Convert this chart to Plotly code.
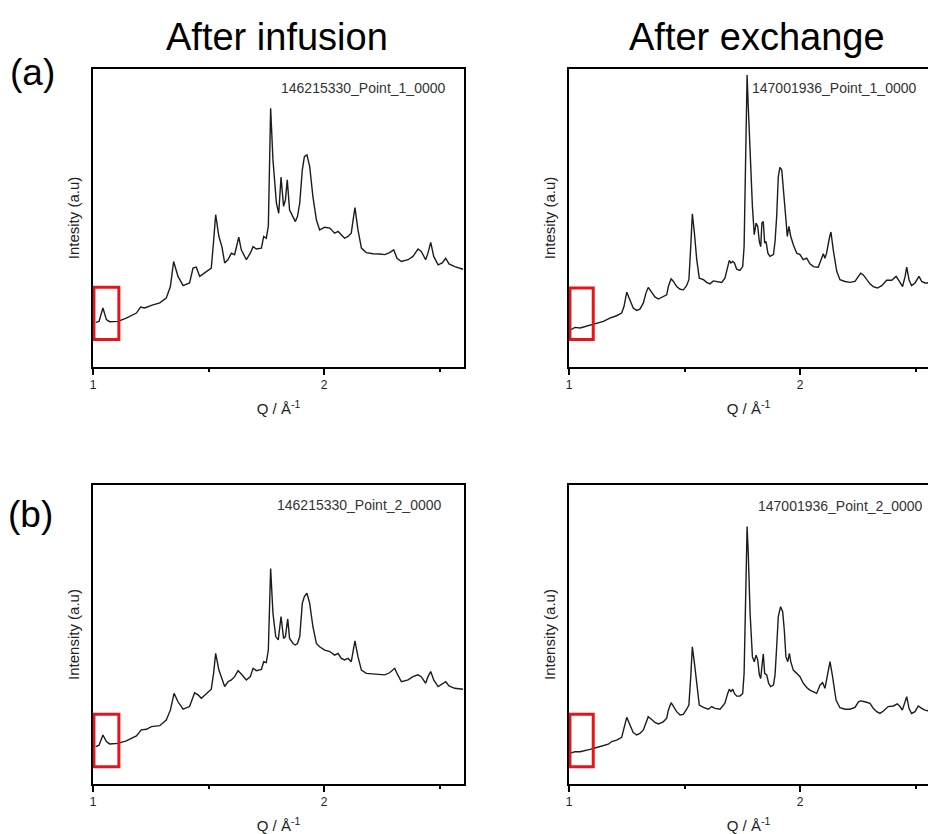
import plotly.graph_objects as go

# ---------------- data (Q in 1/Å, intensity in arbitrary units) ----------------
q_a1 = [1.012, 1.026, 1.043, 1.058, 1.072, 1.108, 1.144, 1.188, 1.206, 1.224, 1.253, 1.289, 1.317, 1.335,
        1.349, 1.368, 1.390, 1.418, 1.433, 1.447, 1.462, 1.491, 1.512, 1.522, 1.531, 1.545, 1.558, 1.570,
        1.584, 1.599, 1.613, 1.631, 1.642, 1.664, 1.681, 1.693, 1.707, 1.729, 1.739, 1.750, 1.759, 1.769,
        1.779, 1.794, 1.804, 1.814, 1.825, 1.833, 1.841, 1.851, 1.866, 1.876, 1.885, 1.895, 1.906, 1.915,
        1.926, 1.938, 1.952, 1.967, 1.981, 2.003, 2.025, 2.046, 2.061, 2.075, 2.089, 2.104, 2.118, 2.126,
        2.134, 2.147, 2.162, 2.183, 2.212, 2.241, 2.263, 2.284, 2.302, 2.316, 2.335, 2.364, 2.385, 2.407,
        2.421, 2.440, 2.450, 2.462, 2.475, 2.494, 2.512, 2.527, 2.541, 2.566, 2.602]
i_a1 = [15.0, 15.3, 19.8, 15.9, 15.2, 15.3, 16.4, 18.1, 20.1, 19.8, 20.7, 21.5, 23.1, 27.0,
        35.4, 30.4, 27.3, 28.2, 33.2, 33.5, 30.4, 32.1, 33.2, 42.1, 51.1, 43.8, 40.4, 34.9,
        36.0, 38.2, 37.7, 43.6, 39.3, 36.0, 38.2, 40.4, 39.6, 39.9, 43.8, 43.2, 47.2, 86.8,
        69.5, 55.0, 51.6, 63.7, 53.9, 56.1, 62.8, 52.7, 50.5, 48.8, 50.5, 55.0, 66.1, 70.6,
        71.2, 67.3, 57.2, 49.4, 46.0, 46.9, 46.6, 44.9, 45.5, 44.4, 43.2, 43.8, 44.9, 49.4,
        53.5, 46.0, 39.9, 38.4, 38.0, 37.9, 37.7, 38.4, 39.3, 36.5, 35.4, 36.0, 37.1, 39.6,
        38.8, 36.0, 38.2, 41.8, 37.1, 34.3, 34.9, 36.5, 34.6, 33.7, 32.8]

q_a2 = [1.007, 1.026, 1.048, 1.069, 1.091, 1.120, 1.149, 1.177, 1.206, 1.228, 1.238, 1.250, 1.264, 1.278,
        1.293, 1.307, 1.322, 1.333, 1.343, 1.358, 1.372, 1.387, 1.408, 1.423, 1.430, 1.442, 1.452, 1.466,
        1.481, 1.495, 1.509, 1.519, 1.527, 1.534, 1.543, 1.553, 1.564, 1.582, 1.596, 1.610, 1.625, 1.639,
        1.661, 1.675, 1.687, 1.694, 1.701, 1.709, 1.716, 1.726, 1.740, 1.752, 1.758, 1.765, 1.771, 1.776,
        1.784, 1.794, 1.802, 1.810, 1.817, 1.824, 1.830, 1.835, 1.841, 1.847, 1.853, 1.861, 1.870, 1.885,
        1.892, 1.899, 1.906, 1.913, 1.921, 1.928, 1.938, 1.945, 1.952, 1.960, 1.971, 1.986, 2.000, 2.014,
        2.029, 2.043, 2.058, 2.079, 2.094, 2.101, 2.108, 2.115, 2.127, 2.134, 2.144, 2.159, 2.173, 2.195,
        2.216, 2.238, 2.253, 2.263, 2.274, 2.289, 2.303, 2.317, 2.335, 2.354, 2.375, 2.397, 2.416, 2.433,
        2.444, 2.455, 2.462, 2.472, 2.483, 2.498, 2.515, 2.527, 2.541, 2.554, 2.580, 2.606]
i_a2 = [12.5, 13.3, 13.1, 13.6, 14.0, 14.7, 15.3, 16.4, 17.2, 18.1, 20.3, 25.1, 22.6, 19.8,
        19.0, 19.4, 21.5, 24.8, 26.7, 24.8, 23.5, 22.8, 23.5, 24.2, 27.0, 29.6, 28.7, 27.0,
        26.1, 25.9, 27.3, 29.3, 40.4, 51.4, 44.9, 36.0, 29.8, 29.3, 28.4, 27.9, 28.9, 28.7,
        28.4, 29.8, 33.7, 35.8, 34.9, 35.4, 34.9, 32.8, 32.4, 33.7, 40.4, 69.5, 98.0, 87.4,
        71.7, 53.9, 44.4, 48.3, 47.2, 42.1, 40.4, 48.3, 48.8, 41.6, 42.1, 38.2, 37.1, 37.7,
        42.1, 50.5, 63.9, 67.0, 66.1, 58.3, 50.5, 43.8, 47.2, 43.8, 41.0, 38.2, 37.7, 36.0,
        36.5, 34.6, 33.7, 33.5, 37.1, 38.0, 36.5, 38.2, 43.2, 45.3, 39.3, 32.1, 29.3, 28.7,
        28.4, 28.7, 30.4, 31.5, 30.9, 29.3, 27.9, 27.0, 26.5, 27.3, 29.1, 29.1, 30.4, 28.4,
        27.0, 30.4, 33.5, 29.3, 27.3, 28.2, 30.4, 28.7, 28.2, 28.2, 28.0, 27.6]

q_b1 = [1.012, 1.026, 1.043, 1.058, 1.072, 1.108, 1.144, 1.188, 1.209, 1.231, 1.253, 1.289, 1.317, 1.335,
        1.351, 1.368, 1.390, 1.418, 1.440, 1.455, 1.469, 1.491, 1.512, 1.522, 1.531, 1.545, 1.558, 1.570,
        1.584, 1.599, 1.613, 1.628, 1.642, 1.664, 1.681, 1.693, 1.707, 1.729, 1.739, 1.750, 1.759, 1.769,
        1.779, 1.791, 1.802, 1.814, 1.825, 1.833, 1.843, 1.851, 1.866, 1.876, 1.885, 1.895, 1.906, 1.915,
        1.926, 1.938, 1.952, 1.967, 1.981, 2.003, 2.025, 2.046, 2.061, 2.075, 2.089, 2.104, 2.118, 2.126,
        2.134, 2.147, 2.162, 2.183, 2.212, 2.241, 2.263, 2.284, 2.306, 2.316, 2.335, 2.364, 2.385, 2.407,
        2.421, 2.440, 2.450, 2.462, 2.475, 2.494, 2.512, 2.527, 2.541, 2.566, 2.602]
i_b1 = [12.5, 13.0, 16.4, 14.2, 13.4, 13.6, 14.4, 16.1, 18.1, 18.3, 19.2, 19.5, 21.4, 24.7,
        30.3, 27.5, 25.0, 25.9, 30.5, 29.8, 28.7, 30.3, 31.7, 37.0, 43.7, 38.1, 34.8, 32.6,
        34.2, 34.8, 35.9, 37.9, 36.8, 34.8, 35.9, 38.7, 37.9, 38.3, 40.9, 40.6, 44.8, 72.1,
        57.1, 49.3, 48.2, 56.0, 48.7, 49.3, 55.2, 48.7, 47.0, 46.5, 47.0, 49.3, 60.4, 62.7,
        63.8, 60.4, 52.6, 47.0, 45.9, 44.8, 44.3, 43.1, 43.7, 42.0, 41.5, 42.0, 40.9, 44.8,
        47.9, 42.6, 38.1, 37.0, 36.8, 36.7, 36.5, 37.2, 38.7, 37.0, 34.2, 34.8, 35.9, 36.5,
        35.9, 33.7, 35.9, 37.6, 34.8, 32.6, 33.4, 34.2, 32.8, 32.0, 31.7]

q_b2 = [1.004, 1.026, 1.048, 1.069, 1.091, 1.120, 1.149, 1.170, 1.185, 1.206, 1.228, 1.238, 1.250, 1.264,
        1.278, 1.293, 1.307, 1.322, 1.333, 1.343, 1.358, 1.372, 1.387, 1.408, 1.423, 1.430, 1.442, 1.452,
        1.466, 1.481, 1.495, 1.509, 1.519, 1.527, 1.534, 1.543, 1.553, 1.564, 1.582, 1.603, 1.618, 1.632,
        1.654, 1.675, 1.687, 1.694, 1.701, 1.709, 1.716, 1.726, 1.740, 1.752, 1.758, 1.765, 1.771, 1.776,
        1.784, 1.794, 1.802, 1.810, 1.817, 1.824, 1.830, 1.835, 1.841, 1.847, 1.856, 1.864, 1.873, 1.885,
        1.892, 1.899, 1.906, 1.916, 1.925, 1.932, 1.939, 1.947, 1.954, 1.960, 1.971, 1.986, 2.000, 2.014,
        2.029, 2.043, 2.058, 2.072, 2.087, 2.098, 2.108, 2.118, 2.130, 2.141, 2.156, 2.173, 2.195, 2.216,
        2.238, 2.253, 2.263, 2.281, 2.303, 2.317, 2.332, 2.346, 2.361, 2.382, 2.404, 2.421, 2.433, 2.443,
        2.453, 2.462, 2.472, 2.483, 2.498, 2.512, 2.527, 2.541, 2.554, 2.580, 2.606]
i_b2 = [10.3, 10.8, 10.8, 11.1, 11.6, 12.2, 12.7, 13.3, 14.2, 14.7, 15.6, 18.6, 22.3, 19.7,
        17.2, 16.4, 16.9, 18.1, 20.8, 22.5, 21.6, 20.6, 20.1, 20.8, 22.0, 24.7, 27.2, 25.9,
        24.2, 23.1, 23.3, 25.0, 26.4, 35.9, 45.9, 40.4, 32.6, 26.4, 25.6, 25.0, 25.9, 25.3,
        25.0, 27.0, 30.3, 31.7, 30.9, 31.7, 30.3, 29.4, 29.4, 30.3, 37.0, 64.9, 86.1, 77.1,
        57.1, 42.6, 40.9, 43.1, 41.5, 36.5, 35.3, 39.2, 43.5, 37.0, 36.5, 33.7, 32.6, 33.1,
        36.5, 45.9, 56.0, 59.3, 57.6, 51.5, 42.6, 40.9, 43.7, 40.9, 38.1, 37.0, 35.9, 33.7,
        32.3, 31.4, 30.9, 30.3, 33.1, 33.9, 32.0, 35.9, 40.9, 35.9, 28.1, 25.5, 25.0, 25.0,
        25.6, 27.5, 27.8, 27.5, 27.0, 25.3, 24.2, 23.6, 24.4, 25.9, 26.1, 26.8, 25.9, 24.7,
        27.0, 29.2, 25.3, 23.6, 24.2, 26.1, 25.3, 24.7, 24.5, 24.3, 24.0]

sample_names = ["146215330_Point_1_0000", "147001936_Point_1_0000",
                "146215330_Point_2_0000", "147001936_Point_2_0000"]
column_titles = ["After infusion", "After exchange"]
row_labels = ["(a)", "(b)"]
y_titles = ["Intesity (a.u)", "Intesity (a.u)", "Intensity (a.u)", "Intensity (a.u)"]
x_title = "Q / Å<sup>-1</sup>"
# highlighted low-Q regions: (Q0, Q1, I0, I1)
boxes = [(1.004, 1.112, 9.2, 26.8), (1.004, 1.105, 9.2, 26.5),
         (1.004, 1.112, 5.8, 23.3), (1.004, 1.105, 5.8, 23.3)]

FONT = "Liberation Sans, Arial, sans-serif"
W, H = 928, 834

fig = go.Figure()
series = [(q_a1, i_a1), (q_a2, i_a2), (q_b1, i_b1), (q_b2, i_b2)]
for k, (q, inten) in enumerate(series):
    sfx = "" if k == 0 else str(k + 1)
    fig.add_trace(go.Scatter(x=q, y=inten, mode="lines",
                             line=dict(color="#1c1c1c", width=1.4),
                             xaxis="x" + sfx, yaxis="y" + sfx,
                             showlegend=False, hoverinfo="skip"))

# panel geometry (pixels)
left_x = (93, 464)
right_x = (569, 928)
top_y = (69, 367)
bot_y = (485, 784)
px_per_q = 231.0

def xd(a, b):
    return [a / W, b / W]

def yd(t, b):
    return [1 - b / H, 1 - t / H]

geo = [(left_x, top_y), (right_x, top_y), (left_x, bot_y), (right_x, bot_y)]
layout_axes = {}
for k, ((xa, xb), (yt, yb)) in enumerate(geo):
    sfx = "" if k == 0 else str(k + 1)
    is_right = k % 2 == 1
    xr = [1, 1 + (xb - xa) / px_per_q]
    layout_axes["xaxis" + sfx] = dict(
        domain=xd(xa, xb), anchor="y" + sfx, range=xr,
        showline=True, linecolor="black", linewidth=2, mirror=True,
        ticks="outside", ticklen=6, tickwidth=1.5, tickcolor="black",
        tickvals=[1, 2], ticktext=["1", "2"],
        minor=dict(tick0=1, dtick=0.5, ticks="outside", ticklen=3,
                   tickwidth=1.5, tickcolor="black", showgrid=False),
        showgrid=False, zeroline=False,
        tickfont=dict(family=FONT, size=12, color="#222"),
        title=dict(text=x_title, font=dict(family=FONT, size=15, color="#222"), standoff=12),
        automargin=False, fixedrange=True)
    layout_axes["yaxis" + sfx] = dict(
        domain=yd(yt, yb), anchor="x" + sfx, range=[0, 100],
        showline=True, linecolor="black", linewidth=2, mirror=not is_right,
        ticks="", showticklabels=False, showgrid=False, zeroline=False,
        title=dict(text=y_titles[k], font=dict(family=FONT, size=15, color="#222"), standoff=8),
        automargin=False, fixedrange=True)

annotations = []
# sample names
name_pos = [(447, "right", 88), (750, "left", 88), (443, "right", 505), (756, "left", 506)]
for k, (px, anchor, py) in enumerate(name_pos):
    annotations.append(dict(text=sample_names[k], x=px / W, y=1 - py / H, xref="paper", yref="paper",
                            xanchor=anchor, yanchor="middle", showarrow=False,
                            font=dict(family=FONT, size=14, color="#333")))
# column titles
for txt, cx in zip(column_titles, [277, 757]):
    annotations.append(dict(text=txt, x=cx / W, y=1 - 37 / H, xref="paper", yref="paper",
                            xanchor="center", yanchor="middle", showarrow=False,
                            font=dict(family=FONT, size=38, color="black")))
# row labels
for txt, cx, cy in zip(row_labels, [32, 31], [72, 514]):
    annotations.append(dict(text=txt, x=cx / W, y=1 - cy / H, xref="paper", yref="paper",
                            xanchor="center", yanchor="middle", showarrow=False,
                            font=dict(family=FONT, size=37, color="black")))

shapes = []
for k, (q0, q1, i0, i1) in enumerate(boxes):
    sfx = "" if k == 0 else str(k + 1)
    shapes.append(dict(type="rect", xref="x" + sfx, yref="y" + sfx, x0=q0, x1=q1, y0=i0, y1=i1,
                       line=dict(color="#e8141c", width=3), fillcolor="rgba(0,0,0,0)"))

fig.update_layout(width=W, height=H, margin=dict(l=0, r=0, t=0, b=0),
                  paper_bgcolor="white", plot_bgcolor="white",
                  font=dict(family=FONT), annotations=annotations, shapes=shapes,
                  **layout_axes)

fig.write_html("out.html")
